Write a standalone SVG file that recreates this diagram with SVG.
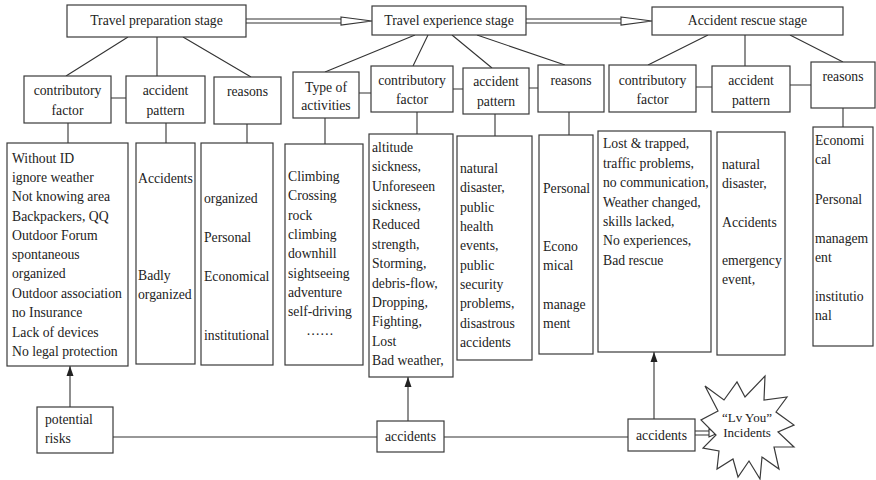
<svg xmlns="http://www.w3.org/2000/svg" width="876" height="480" viewBox="0 0 876 480">
<style>
.b{fill:#fff;stroke:#3a3a3a;stroke-width:1.2}
.t{font-family:"Liberation Serif","Times New Roman",serif;font-size:13.7px;fill:#222}
.m{text-anchor:middle}
.s{font-size:13px}
.c{fill:none;stroke:#333;stroke-width:1.1}
.h{fill:#fff;stroke:#333;stroke-width:1.1}
</style>
<defs>
<marker id="ah" markerUnits="userSpaceOnUse" markerWidth="10" markerHeight="10" viewBox="0 0 10 10" refX="10" refY="5" orient="auto">
<path d="M0,1.5 L10,5 L0,8.5 Z" fill="#222"/>
</marker>
</defs>
<rect width="876" height="480" fill="#fff"/>

<g id="connectors">
<path class="c" d="M128,37 L66,76 M157,37 L157,76 M183,37 L251,77 M415,35 L325,72 M428,35 L413,66 M452,35 L492,68 M477,35 L565,65 M708,35 L648,65 M745,35 L745,66 M790,35 L843,62"/>
<path class="c" d="M111,98 H126 M359,93 H371 M453,89 H463 M529,88 H538 M696,87 H712 M790,85 H811"/>
<path class="c" d="M68,123 V143 M166,123 V143 M247,124 V143 M325,118 V144 M417,112 V134 M495,114 V136 M569,112 V135 M843,108 V127"/>
<path class="c" d="M113,437 H377 M444,437 H628"/>
<path class="c" d="M70,407 V366" marker-end="url(#ah)"/>
<path class="c" d="M408,421 V377" marker-end="url(#ah)"/>
<path class="c" d="M654,419 V352" marker-end="url(#ah)"/>
<path class="c" d="M246,19 H341 M246,23 H341 M526,19 H621 M526,23 H621 M695,431 H709 M695,435 H709"/>
<path class="h" d="M341,17 L372,21 L341,25 Z M621,17 L652,21 L621,25 Z M709,429 L718,433 L709,437 Z"/>
</g>

<g id="stage-prep"><rect class="b" x="67" y="5" width="179" height="32"/><text class="t m" x="156.5" y="25">Travel preparation stage</text></g>
<g id="stage-exp"><rect class="b" x="372" y="6" width="154" height="29"/><text class="t m" x="449" y="25">Travel experience stage</text></g>
<g id="stage-rescue"><rect class="b" x="652" y="7" width="191" height="28"/><text class="t m" x="747.5" y="25">Accident rescue stage</text></g>

<g id="p-cf"><rect class="b" x="24" y="76" width="87" height="47"/><text class="t m" x="67.5" y="95">contributory</text><text class="t m" x="67.5" y="115">factor</text></g>
<g id="p-ap"><rect class="b" x="126" y="76" width="79" height="47"/><text class="t m" x="165.5" y="95">accident</text><text class="t m" x="165.5" y="115">pattern</text></g>
<g id="p-rs"><rect class="b" x="214" y="77" width="67" height="47"/><text class="t m" x="247.5" y="96">reasons</text></g>

<g id="e-ta"><rect class="b" x="293" y="72" width="66" height="46"/><text class="t m" x="326" y="92">Type of</text><text class="t m" x="326" y="110">activities</text></g>
<g id="e-cf"><rect class="b" x="371" y="66" width="82" height="46"/><text class="t m" x="412" y="85">contributory</text><text class="t m" x="412" y="104">factor</text></g>
<g id="e-ap"><rect class="b" x="463" y="68" width="66" height="46"/><text class="t m" x="496" y="86">accident</text><text class="t m" x="496" y="106">pattern</text></g>
<g id="e-rs"><rect class="b" x="538" y="65" width="66" height="47"/><text class="t m" x="571" y="85">reasons</text></g>

<g id="r-cf"><rect class="b" x="609" y="65" width="87" height="47"/><text class="t m" x="652.5" y="85">contributory</text><text class="t m" x="652.5" y="104">factor</text></g>
<g id="r-ap"><rect class="b" x="712" y="66" width="78" height="46"/><text class="t m" x="751" y="85">accident</text><text class="t m" x="751" y="105">pattern</text></g>
<g id="r-rs"><rect class="b" x="811" y="62" width="64" height="46"/><text class="t m" x="843" y="81">reasons</text></g>

<g id="p-cf-list"><rect class="b" x="7" y="143" width="121" height="223"/>
<text class="t" x="12" y="163">Without ID</text>
<text class="t" x="12" y="182">ignore weather</text>
<text class="t" x="12" y="201">Not knowing area</text>
<text class="t" x="12" y="221">Backpackers, QQ</text>
<text class="t" x="12" y="240">Outdoor Forum</text>
<text class="t" x="12" y="259">spontaneous</text>
<text class="t" x="12" y="278">organized</text>
<text class="t" x="12" y="298">Outdoor association</text>
<text class="t" x="12" y="317">no Insurance</text>
<text class="t" x="12" y="337">Lack of devices</text>
<text class="t" x="12" y="356">No legal protection</text>
</g>
<g id="p-ap-list"><rect class="b" x="136" y="143" width="59" height="221"/>
<text class="t" x="138" y="183">Accidents</text>
<text class="t" x="138" y="280">Badly</text>
<text class="t" x="138" y="299">organized</text>
</g>
<g id="p-rs-list"><rect class="b" x="201" y="143" width="72" height="222"/>
<text class="t" x="204" y="203">organized</text>
<text class="t" x="204" y="242">Personal</text>
<text class="t" x="204" y="281">Economical</text>
<text class="t" x="204" y="340">institutional</text>
</g>

<g id="e-ta-list"><rect class="b" x="285" y="144" width="78" height="221"/>
<text class="t" x="288" y="181">Climbing</text>
<text class="t" x="288" y="200">Crossing</text>
<text class="t" x="288" y="220">rock</text>
<text class="t" x="288" y="239">climbing</text>
<text class="t" x="288" y="258">downhill</text>
<text class="t" x="288" y="278">sightseeing</text>
<text class="t" x="288" y="297">adventure</text>
<text class="t" x="288" y="316">self-driving</text>
<text class="t m" x="320" y="335">……</text>
</g>
<g id="e-cf-list"><rect class="b" x="369" y="134" width="84" height="243"/>
<text class="t" x="372" y="152">altitude</text>
<text class="t" x="372" y="171">sickness,</text>
<text class="t" x="372" y="191">Unforeseen</text>
<text class="t" x="372" y="210">sickness,</text>
<text class="t" x="372" y="229">Reduced</text>
<text class="t" x="372" y="249">strength,</text>
<text class="t" x="372" y="268">Storming,</text>
<text class="t" x="372" y="288">debris-flow,</text>
<text class="t" x="372" y="307">Dropping,</text>
<text class="t" x="372" y="326">Fighting,</text>
<text class="t" x="372" y="346">Lost</text>
<text class="t" x="372" y="365">Bad weather,</text>
</g>
<g id="e-ap-list"><rect class="b" x="457" y="136" width="75" height="224"/>
<text class="t" x="460" y="173">natural</text>
<text class="t" x="460" y="192">disaster,</text>
<text class="t" x="460" y="212">public</text>
<text class="t" x="460" y="231">health</text>
<text class="t" x="460" y="250">events,</text>
<text class="t" x="460" y="270">public</text>
<text class="t" x="460" y="289">security</text>
<text class="t" x="460" y="308">problems,</text>
<text class="t" x="460" y="328">disastrous</text>
<text class="t" x="460" y="347">accidents</text>
</g>
<g id="e-rs-list"><rect class="b" x="539" y="135" width="54" height="219"/>
<text class="t" x="543" y="193">Personal</text>
<text class="t" x="543" y="251">Econo</text>
<text class="t" x="543" y="270">mical</text>
<text class="t" x="543" y="309">manage</text>
<text class="t" x="543" y="328">ment</text>
</g>

<g id="r-cf-list"><rect class="b" x="598" y="131" width="113" height="221"/>
<text class="t" x="603" y="148">Lost &amp; trapped,</text>
<text class="t" x="603" y="168">traffic problems,</text>
<text class="t" x="603" y="187">no communication,</text>
<text class="t" x="603" y="207">Weather changed,</text>
<text class="t" x="603" y="226">skills lacked,</text>
<text class="t" x="603" y="245">No experiences,</text>
<text class="t" x="603" y="265">Bad rescue</text>
</g>
<g id="r-ap-list"><rect class="b" x="717" y="132" width="68" height="223"/>
<text class="t" x="722" y="169">natural</text>
<text class="t" x="722" y="188">disaster,</text>
<text class="t" x="722" y="227">Accidents</text>
<text class="t" x="722" y="265">emergency</text>
<text class="t" x="722" y="284">event,</text>
</g>
<g id="r-rs-list"><rect class="b" x="813" y="127" width="60" height="219"/>
<text class="t" x="815" y="145">Economi</text>
<text class="t" x="815" y="164">cal</text>
<text class="t" x="815" y="204">Personal</text>
<text class="t" x="815" y="243">managem</text>
<text class="t" x="815" y="262">ent</text>
<text class="t" x="815" y="301">institutio</text>
<text class="t" x="815" y="320">nal</text>
</g>

<g id="potential-risks"><rect class="b" x="37" y="407" width="76" height="46"/>
<text class="t" x="45" y="424">potential</text>
<text class="t" x="45" y="443">risks</text>
</g>
<g id="accidents-1"><rect class="b" x="377" y="421" width="67" height="31"/><text class="t m" x="410.5" y="441">accidents</text></g>
<g id="accidents-2"><rect class="b" x="628" y="419" width="67" height="32"/><text class="t m" x="661.5" y="440">accidents</text></g>

<g id="incidents">
<polygon class="b" points="705,386 724,400 737,382 745,397 765,376 764,400 787,397 776,412 794,425 778,432 794,447 774,447 779,469 762,457 760,479 749,461 738,477 733,459 717,469 719,451 703,448 716,435 701,420 718,411"/>
<text class="t m s" x="747" y="422">“Lv You”</text>
<text class="t m s" x="747" y="437">Incidents</text>
</g>
</svg>
